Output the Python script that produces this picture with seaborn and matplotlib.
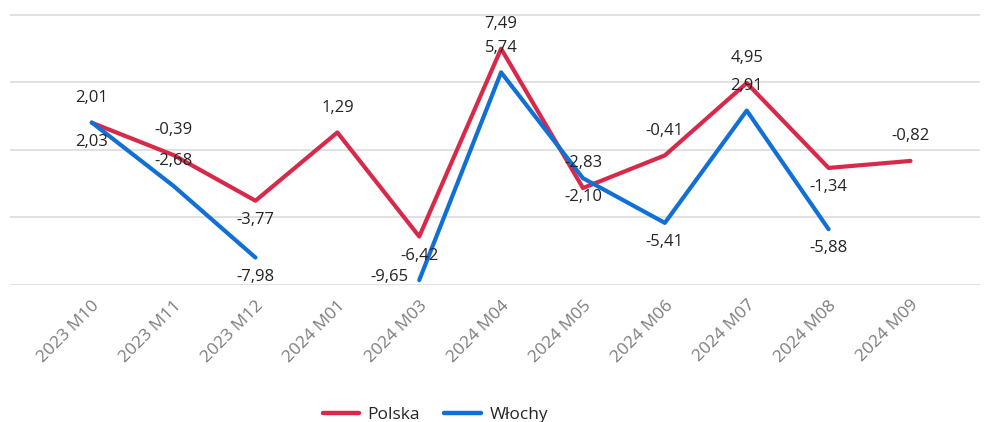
import numpy as np
import pandas as pd
import matplotlib.pyplot as plt
import seaborn as sns

# DATA
months = ["2023 M10", "2023 M11", "2023 M12", "2024 M01", "2024 M03", "2024 M04",
          "2024 M05", "2024 M06", "2024 M07", "2024 M08", "2024 M09"]
polska = [2.01, -0.39, -3.77, 1.29, -6.42, 7.49, -2.83, -0.41, 4.95, -1.34, -0.82]
wlochy = [2.03, -2.68, -7.98, np.nan, -9.65, 5.74, -2.10, -5.41, 2.91, -5.88, np.nan]

# label placement per point (a = above, b = below, l = left)
polska_pos = ["a", "a", "b", "a", "b", "a", "a", "a", "a", "b", "a"]
wlochy_pos = ["b", "a", "b", "b", "l", "a", "b", "b", "a", "b", "b"]

RED = "#D9294A"
BLUE = "#1170D6"

sns.set_style("white")
plt.rcParams["font.family"] = ["Open Sans", "DejaVu Sans"]

rows = []
for name, vals in [("Polska", polska), ("Włochy", wlochy)]:
    seg = 0
    for i, v in enumerate(vals):
        if np.isnan(v):
            seg += 1
            continue
        rows.append({"x": i, "value": v, "kraj": name, "seg": f"{name}{seg}"})
df = pd.DataFrame(rows)

fig = plt.figure(figsize=(9.85, 4.22), dpi=100)
ax = fig.add_axes([0.010, 0.325, 0.985, 0.675])

sns.lineplot(data=df, x="x", y="value", hue="kraj", units="seg", estimator=None,
             palette={"Polska": RED, "Włochy": BLUE}, linewidth=3.0, ax=ax,
             legend=False, sort=False)

# data labels
offsets = {"a": (0, 12, "center", "bottom"), "b": (0, -8, "center", "top"),
           "l": (-8, 2, "right", "center")}
for vals, pos in [(polska, polska_pos), (wlochy, wlochy_pos)]:
    for i, (v, p) in enumerate(zip(vals, pos)):
        if np.isnan(v):
            continue
        dx, dy, ha, va = offsets[p]
        ax.annotate(f"{v:.2f}".replace(".", ","), (i, v), xytext=(dx, dy),
                    textcoords="offset points", ha=ha, va=va, fontsize=12, color="#252423")

ax.set_xlim(-1.0, 10.85)
ax.set_ylim(-10, 11.1)
ax.set_yticks([-10, -5, 0, 5, 10])
ax.set_yticklabels([])
ax.tick_params(axis="y", length=0)
ax.grid(axis="y", color="#dcdcdc", linewidth=1.2)
ax.set_xticks(range(len(months)))
ax.set_xticklabels(months, rotation=45, ha="right", rotation_mode="anchor",
                   fontsize=12.5, color="#7c7c7c")
ax.tick_params(axis="x", length=0, pad=9)
ax.set_xlabel("")
ax.set_ylabel("")
sns.despine(ax=ax, left=True, bottom=True)

handles = [plt.Line2D([], [], color=RED, lw=3.2), plt.Line2D([], [], color=BLUE, lw=3.2)]
fig.legend(handles, ["Polska", "Włochy"], loc="lower center", bbox_to_anchor=(0.442, -0.04),
           ncol=2, frameon=False, fontsize=12.5, handlelength=2.1, handletextpad=0.5,
           columnspacing=1.4)

fig.savefig("out.png", dpi=100)
